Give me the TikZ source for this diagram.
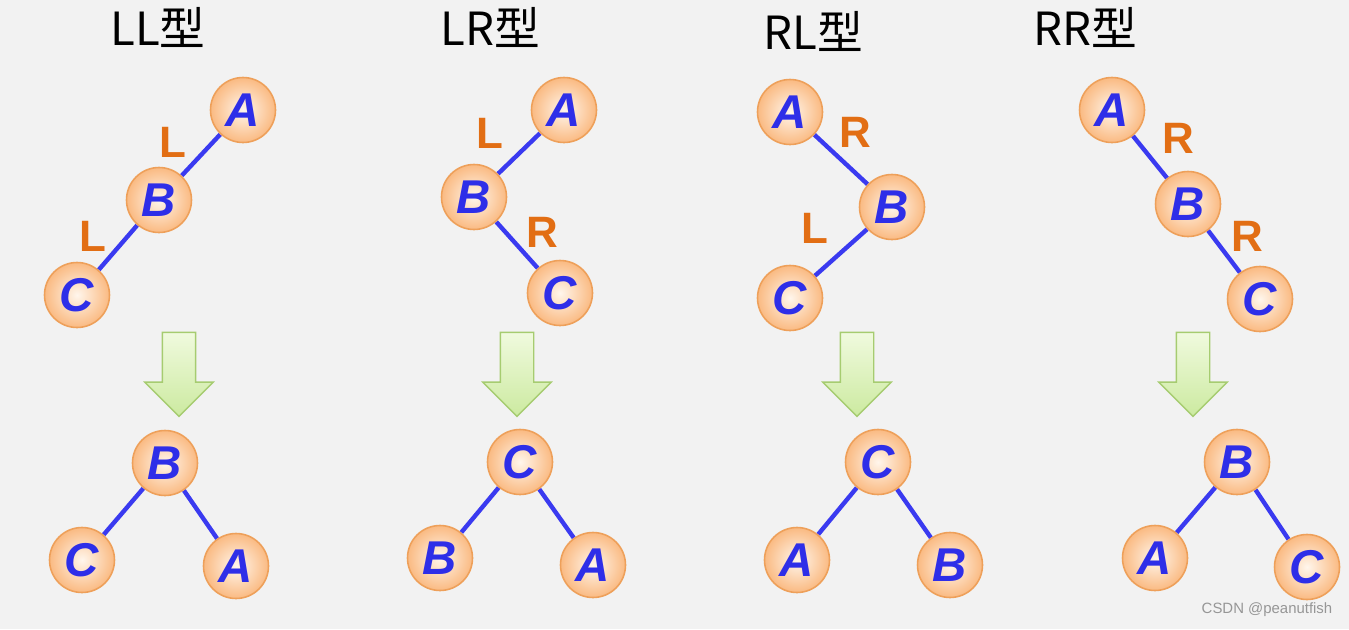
\documentclass[tikz,border=0pt]{standalone}
\usepackage{fontspec}
\setmainfont{Liberation Sans}
\newfontfamily\cjk{Noto Sans CJK SC}
\usetikzlibrary{shapes.arrows, backgrounds}
\definecolor{bgcol}{RGB}{242, 242, 242}
\definecolor{nodefill}{RGB}{255, 246, 236}
\definecolor{nodeedge}{RGB}{250, 186, 130}
\definecolor{nodeline}{RGB}{238, 160, 90}
\definecolor{letter}{RGB}{46, 46, 232}
\definecolor{edgeblue}{RGB}{58, 58, 240}
\definecolor{dirorange}{RGB}{226, 110, 20}
\definecolor{arrowtop}{RGB}{240, 250, 222}
\definecolor{arrowbot}{RGB}{204, 234, 160}
\definecolor{arrowline}{RGB}{166, 204, 112}
\definecolor{mark}{RGB}{150, 150, 150}

\begin{document}
\begin{tikzpicture}[
            x=0.02cm, y=-0.02cm,
            avl/.style={circle, draw=nodeline, line width=0.9pt, inner color=nodefill, outer color=nodeedge,
                minimum size=1.3cm, inner sep=0pt, text=letter, font=\fontsize{27}{27}\selectfont\bfseries\itshape},
            dir/.style={text=dirorange, font=\fontsize{25}{25}\selectfont\bfseries},
            title/.style={font=\cjk\fontsize{26}{26}\selectfont},
            link/.style={draw=edgeblue, line width=2.5pt},
            turn/.style={single arrow, shape border rotate=270, draw=arrowline, line width=0.8pt,
                top color=arrowtop, bottom color=arrowbot, minimum height=1.68cm, inner sep=0.32cm,
                single arrow head extend=0.35cm, single arrow tip angle=90}
        ]
            \useasboundingbox (0,0) rectangle (1349,629);

            % LL
            \node[title] (t1) at (158,27) {LL型};
            \node[avl] (a1) at (243,110) {A};
            \node[avl] (b1) at (159,200) {B};
            \node[avl] (c1) at (77,295) {C};
            \node[dir] (l1) at (173,142) {L};
            \node[dir] (l2) at (93,236) {L};
            \node[turn] (d1) at (179,366) {};
            \node[avl] (nb1) at (165,463) {B};
            \node[avl] (nc1) at (82,560) {C};
            \node[avl] (na1) at (236,566) {A};

            % LR
            \node[title] (t2) at (490,27) {LR型};
            \node[avl] (a2) at (564,110) {A};
            \node[avl] (b2) at (474,197) {B};
            \node[avl] (c2) at (560,293) {C};
            \node[dir] (l3) at (490,133) {L};
            \node[dir] (r1) at (542,232) {R};
            \node[turn] (d2) at (517,366) {};
            \node[avl] (nc2) at (520,462) {C};
            \node[avl] (nb2) at (440,558) {B};
            \node[avl] (na2) at (593,565) {A};

            % RL
            \node[title] (t3) at (813,31) {RL型};
            \node[avl] (a3) at (790,112) {A};
            \node[avl] (b3) at (892,207) {B};
            \node[avl] (c3) at (790,298) {C};
            \node[dir] (r2) at (855,132) {R};
            \node[dir] (l4) at (815,228) {L};
            \node[turn] (d3) at (857,366) {};
            \node[avl] (nc3) at (878,462) {C};
            \node[avl] (na3) at (797,560) {A};
            \node[avl] (nb3) at (950,565) {B};

            % RR
            \node[title] (t4) at (1085,27) {RR型};
            \node[avl] (a4) at (1112,110) {A};
            \node[avl] (b4) at (1188,204) {B};
            \node[avl] (c4) at (1260,299) {C};
            \node[dir] (r3) at (1178,138) {R};
            \node[dir] (r4) at (1247,236) {R};
            \node[turn] (d4) at (1193,366) {};
            \node[avl] (nb4) at (1237,462) {B};
            \node[avl] (na4) at (1155,558) {A};
            \node[avl] (nc4) at (1307,567) {C};

            \node[text=mark, font=\fontsize{8.5}{8.5}\selectfont] (wm) at (1267,610) {CSDN @peanutfish};

            % Links
            \begin{scope}[on background layer]
                \fill[bgcol] (0,0) rectangle (1349,629);
                \draw[link] (a1) -- (b1) -- (c1);
                \draw[link] (nc1) -- (nb1) -- (na1);
                \draw[link] (a2) -- (b2) -- (c2);
                \draw[link] (nb2) -- (nc2) -- (na2);
                \draw[link] (a3) -- (b3) -- (c3);
                \draw[link] (na3) -- (nc3) -- (nb3);
                \draw[link] (a4) -- (b4) -- (c4);
                \draw[link] (na4) -- (nb4) -- (nc4);
            \end{scope}
        \end{tikzpicture}
\end{document}
